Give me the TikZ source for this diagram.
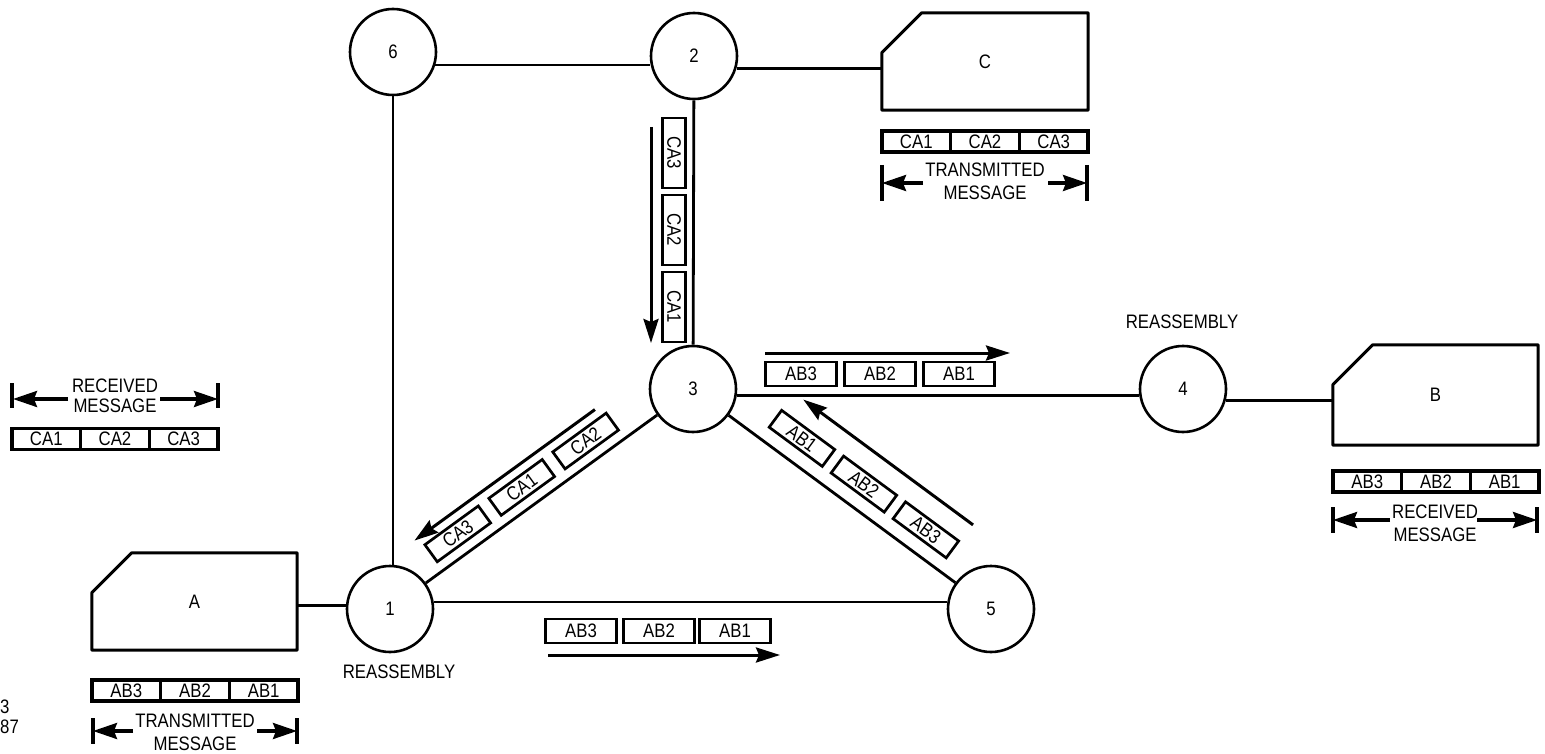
\documentclass[tikz,border=0pt]{standalone}
\usepackage{fontspec}
\setmainfont[FakeStretch=0.86]{Liberation Sans}
\usetikzlibrary{arrows.meta,calc}
\begin{document}
\begin{tikzpicture}[x=1pt,y=-1pt,
  every node/.style={font=\fontsize{19.5}{23}\selectfont},
  link/.style={line width=2.8pt},
  sta/.style={circle,draw,line width=2.6pt,minimum size=86pt,inner sep=0pt},
  term/.style={minimum width=205pt,minimum height=97pt,inner sep=0pt},
  termline/.style={line width=3pt,line join=round},
  pkt/.style={draw,line width=2.7pt,minimum width=71pt,minimum height=24pt,inner sep=0pt},
  dpkt/.style={pkt,minimum width=66pt,minimum height=21pt},
  seg/.style={draw,line width=3.2pt,minimum width=68.7pt,minimum height=21pt,inner sep=0pt},
  flow/.style={line width=3pt,-{Stealth[length=24pt,width=15pt,inset=3pt]}},
  dimarr/.style={line width=3.2pt,-{Stealth[length=24pt,width=16pt,inset=3pt]}},
  bar/.style={line width=3.6pt},
  dimtext/.style={align=center,inner sep=0pt},
  plain/.style={inner sep=0pt},
]
\useasboundingbox (0,0) rectangle (1545,754);

% stations
\node[sta] (n6) at (393,52) {6};
\node[sta] (n2) at (694,56) {2};
\node[sta] (n3) at (693,389) {3};
\node[sta] (n4) at (1183,389) {4};
\node[sta] (n1) at (390,609) {1};
\node[sta] (n5) at (991,609) {5};

% terminals
\node[term] (A) at (194.5,601.5) {A};
\node[term,minimum width=206pt] (C) at (985,61.5) {C};
\node[term,minimum height=100pt] (B) at (1435.5,395) {B};
\foreach \t in {A,B,C}
  \draw[termline] (\t.south west) -- (\t.south east) -- (\t.north east)
    -- ([xshift=40pt]\t.north west) -- ([yshift=-40pt]\t.north west) -- cycle;

% links
\draw[link] (n6.-17) -- (n6.-17 -| n2.west);
\draw[link] (n6.south) -- (n6.south |- n1.north);
\draw[link] (n2) -- (n3);
\draw[link] (n3.-8) -- (n4.188);
\draw[link] (n1.9) -- (n5.171);
\draw[link] (n1) -- (n3);
\draw[link] (n3) -- (n5);
\draw[link] (n1.175) -- (n1.175 -| A.east);
\draw[link] (n2.-16) -- (n2.-16 -| C.west);
\draw[link] (n4.-15) -- (n4.-15 -| B.west);

% packets on 2-3
\node[pkt,rotate=-90,minimum width=70pt,minimum height=23pt] (q1) at (674,153) {CA3};
\node[pkt,rotate=-90,minimum width=70pt,minimum height=23pt] (q2) at (674,230) {CA2};
\node[pkt,rotate=-90,minimum width=70pt,minimum height=23pt] (q3) at (674,307) {CA1};
\coordinate (f23s) at (651,127);
\coordinate (f23e) at (651,343);
\draw[flow] (f23s) -- (f23e);

% packets on 3-4
\node[pkt] (r1) at (801,374) {AB3};
\node[pkt] (r2) at (880,374) {AB2};
\node[pkt] (r3) at (959,374) {AB1};
\coordinate (f34s) at (765,353);
\coordinate (f34e) at (1010,353);
\draw[flow] (f34s) -- (f34e);

% packets on 1-5
\node[pkt] (s1) at (581,631) {AB3};
\node[pkt] (s2) at (659,631) {AB2};
\node[pkt] (s3) at (735,631) {AB1};
\coordinate (f15s) at (548,655);
\coordinate (f15e) at (780,655);
\draw[flow] (f15s) -- (f15e);

% packets on 1-3
\node[dpkt,rotate=36] (t1) at ($(n1)!99pt!(n3)!21pt!90:(n3)$) {CA3};
\node[dpkt,rotate=36] (t2) at ($(n1)!178pt!(n3)!21pt!90:(n3)$) {CA1};
\node[dpkt,rotate=36] (t3) at ($(n1)!257pt!(n3)!21pt!90:(n3)$) {CA2};
\coordinate (f13s) at ($(n1)!283pt!(n3)!41pt!90:(n3)$);
\coordinate (f13e) at ($(n1)!60pt!(n3)!41pt!90:(n3)$);
\draw[flow] (f13s) -- (f13e);

% packets on 3-5
\node[dpkt,rotate=-36.4] (u1) at ($(n3)!117pt!(n5)!25pt!90:(n5)$) {AB1};
\node[dpkt,rotate=-36.4] (u2) at ($(n3)!194pt!(n5)!25pt!90:(n5)$) {AB2};
\node[dpkt,rotate=-36.4] (u3) at ($(n3)!271pt!(n5)!25pt!90:(n5)$) {AB3};
\coordinate (f35s) at ($(n3)!306pt!(n5)!57pt!90:(n5)$);
\coordinate (f35e) at ($(n3)!95pt!(n5)!57pt!90:(n5)$);
\draw[flow] (f35s) -- (f35e);

% message strips
\node[seg] (c1) at (916.3,141.5) {CA1};
\node[seg] (c2) at (985,141.5) {CA2};
\node[seg] (c3) at (1053.7,141.5) {CA3};
\node[seg] (a1) at (126.3,690.5) {AB3};
\node[seg] (a2) at (195,690.5) {AB2};
\node[seg] (a3) at (263.7,690.5) {AB1};
\node[seg] (b1) at (1367.3,481.5) {AB3};
\node[seg] (b2) at (1436,481.5) {AB2};
\node[seg] (b3) at (1504.7,481.5) {AB1};
\node[seg] (l1) at (46.3,439) {CA1};
\node[seg] (l2) at (115,439) {CA2};
\node[seg] (l3) at (183.7,439) {CA3};

% dimension: C transmitted
\node[dimtext] (ct) at (985,181) {TRANSMITTED\\MESSAGE};
\draw[bar] (882,165) -- (882,201);
\draw[bar] (1087,165) -- (1087,201);
\draw[dimarr] (923,183) -- (882,183);
\draw[dimarr] (1048,183) -- (1087,183);

% dimension: A transmitted
\node[dimtext] (at) at (195,732) {TRANSMITTED\\MESSAGE};
\draw[bar] (93,718) -- (93,744);
\draw[bar] (297,718) -- (297,744);
\draw[dimarr] (133,731) -- (93,731);
\draw[dimarr] (257,731) -- (297,731);

% dimension: B received
\node[dimtext] (bt) at (1435,523) {RECEIVED\\MESSAGE};
\draw[bar] (1333,507) -- (1333,533);
\draw[bar] (1537,507) -- (1537,533);
\draw[dimarr] (1390,520) -- (1333,520);
\draw[dimarr] (1477,520) -- (1537,520);

% dimension: left received
\node[dimtext,font=\fontsize{19.5}{20}\selectfont] (lt) at (115,396) {RECEIVED\\MESSAGE};
\draw[bar] (12,383) -- (12,408);
\draw[bar] (218,383) -- (218,408);
\draw[dimarr] (68,399) -- (13,399);
\draw[dimarr] (160,399) -- (218,399);

% labels
\node[plain] (ra1) at (399,672) {REASSEMBLY};
\node[plain] (ra4) at (1182,322) {REASSEMBLY};
\node[plain,anchor=west] (fn1) at (0,707) {3};
\node[plain,anchor=west] (fn2) at (0,727) {87};
\end{tikzpicture}
\end{document}
